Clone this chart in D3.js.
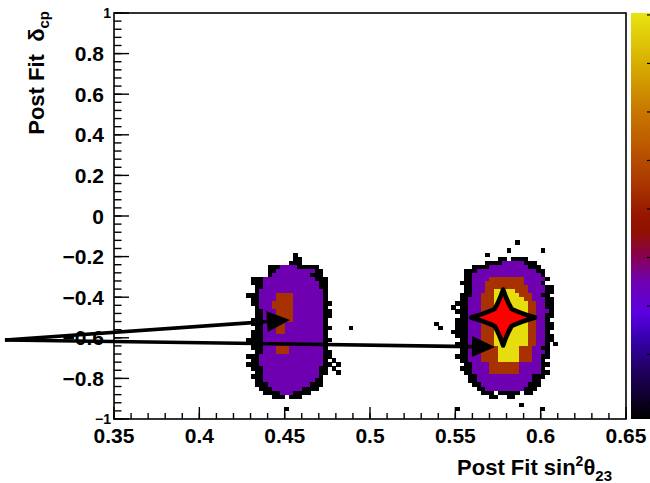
<!DOCTYPE html>
<html>
<head>
<meta charset="utf-8">
<script src="https://cdn.jsdelivr.net/npm/d3@7"></script>
<style>
  html, body { margin: 0; padding: 0; background: #fff; }
  svg { display: block; }
  text { font-family: "Liberation Sans", Arial, Helvetica, sans-serif; font-weight: bold; }
</style>
</head>
<body>
<svg id="chart" width="650" height="483"></svg>
<script>
// ---- axis ranges and ticks ----
const xDomain = [0.35, 0.65];
const yDomain = [-1, 1];
const xTicks = [0.35, 0.40, 0.45, 0.50, 0.55, 0.60, 0.65];
const xTickLabels = ["0.35", "0.4", "0.45", "0.5", "0.55", "0.6", "0.65"];
const yTicks = [-1, -0.8, -0.6, -0.4, -0.2, 0, 0.2, 0.4, 0.6, 0.8, 1];
const yTickLabels = ["\u22121", "\u22120.8", "\u22120.6", "\u22120.4", "\u22120.2", "0", "0.2", "0.4", "0.6", "0.8", "1"];
const xMinorStep = 0.01;
const yMinorStep = 0.04;

// ---- histogram binning ----
const xBinWidth = 0.0025;
const yBinWidth = 0.02;

// bin content per cell code
const cellCounts = { k: 7, p: 35, o: 54, y: 89 };

// z axis (colour palette) range and ticks
const zDomain = [6.7, 90.4];
const zTicks = [10, 20, 30, 40, 50, 60, 70, 80, 90];
const paletteStops = [0.00, 0.12, 0.20, 0.26, 0.34, 0.40, 0.46, 0.50, 0.57, 0.67, 0.76, 0.88, 1.00];
const paletteColors = ["#000000", "#200060", "#3800b0", "#5a00e0", "#7000b0", "#880050", "#901000",
                       "#951500", "#a83300", "#bb5800", "#c87800", "#d8b000", "#e8e410"];

// left solution: rows top to bottom, first column at x = 0.425, first row upper edge at -0.18
const leftX0 = 0.425;
const leftYTop = -0.18;
const leftRows = [
  "............k.............",
  "............kk............",
  "...........kkk............",
  "......kkkppppkkkkk........",
  "......kkpppppppppkk.......",
  "......kpppppppppkkk.......",
  "..kkkppppppppppppkkk......",
  "..kkkpppppppppppppkk......",
  "...kkpppppppppppppkk......",
  "...kpppppppppppppppk......",
  ".kkkppppoooopppppppk......",
  "..kkppppoooopppppppk......",
  "..kkpppooooopppppppkk.....",
  "...kpppooooopppppppk......",
  "...kkpppoooopppppppkk.....",
  "...kkpppoooopppppppkk.....",
  "..kkkpppoooopppppppk......",
  "..kkkpppoopppppppppk......",
  "...kkpppoopppppppppkk....k",
  "..kkkpppoopppppppppk......",
  "..kkkppppppppppppppk......",
  ".kkkkppppppppppppppkk.....",
  "..kkkppppppppppppppk......",
  "..kkkpppoooppppppppk......",
  "...kkpppoooppppppppkk.....",
  ".kkkpppppppppppppppkk.....",
  "..kkpppppppppppppppk.k....",
  ".kkkpppppppppppppppkk.k...",
  "..kkkpppppppppppppkk.k....",
  "...kkpppppppppppppkk..k...",
  "..kkkpppppppppppppk.......",
  "...kkppppppppppppkk.......",
  "...kkkppppppppppkkk.......",
  "....kkkpppppppkkkk........",
  ".....kkkkpppkkkk..........",
  ".......kkk.kkk............",
  "..........................",
  "..........................",
  "..........k..............."
];

// right solution: first column at x = 0.535, first row upper edge at -0.12
const rightX0 = 0.535;
const rightYTop = -0.12;
const rightRows = [
  "....................k.........",
  "..............................",
  "..................k.......k...",
  ".............k................",
  "................kk.kkkk.......",
  ".............kkkkpppppkkk.....",
  "..........kkkkpppppppppkkk....",
  "........kkkppppppppppppppkk...",
  "........kkppppppppppppppppk...",
  "........kkppppoooooooopppppk..",
  ".......kkkpppoooooooooppppk...",
  "........kkpppooooooooooppppkk.",
  "........kkpppooyyyyyoooppppkk.",
  ".......kkkppoooyyyyyyoooppkk..",
  ".......kkpppoooyyyyyyyoopppkk.",
  "......kkkpppoooyyyyyyyyooppkk.",
  ".....k.kkpppoooyyyyyyyyooppkk.",
  "......kkkpppoooyyyyyyyyoopppk.",
  ".......kkpppoooyyyyyyyyooppkk.",
  "......kkkpppoooyyyyyyyyooppk..",
  ".k....kkkpppoooyyyyyyyyooppkk.",
  "..k...kkkpppoooyyyyyyyyooppkk.",
  ".....kkkkpppoooyyyyyyyyooppk..",
  "......kkkpppoooyyyyyyyyooppkk.",
  ".......kkpppoooyyyyyyyyooppkk.",
  "......kkkpppoooyyyyyyyyooppk.k",
  ".......kkpppooooyyyyyoooppkk..",
  ".......kkpppooooyyyyyooopppk..",
  "......kkkpppooooyyyyyoooppkk..",
  ".......kkpppooooyyyyyoooppk...",
  "........kkppppooooooopppppkk..",
  ".......kkkppppooooooopppppk...",
  "........kkppppooooooopppppkk..",
  ".........kkpppppppppppppkkk...",
  ".........kkpppppppppppppkk....",
  "..........kkpppppppppppkkk....",
  "...........kkpppppppppkkk.....",
  "............kkk.kkkkk.kk......",
  "..............kk..kk..........",
  "..............................",
  ".....................k........",
  "......k...................k..."
];

// best-fit point and the two arrows pointing at the solutions
const bestFit = { x: 0.578, y: -0.5 };
const arrows = [
  { from: [0.2861, -0.611], to: [0.4531, -0.512] },
  { from: [0.2861, -0.611], to: [0.5732, -0.645] }
];

const xTitle = "Post Fit sin";
const yTitle = "Post Fit  ";

// ---- layout ----
const svg = d3.select("#chart");
const frame = { left: 114, right: 626, top: 13, bottom: 419 };
const bar = { left: 631, right: 652 };

const x = d3.scaleLinear().domain(xDomain).range([frame.left, frame.right]);
const y = d3.scaleLinear().domain(yDomain).range([frame.bottom, frame.top]);
const z = d3.scaleLinear().domain(zDomain).range([frame.bottom, frame.top]);
const zFrac = d3.scaleLinear().domain(zDomain).range([0, 1]).clamp(true);
const palette = d3.scaleLinear().domain(paletteStops).range(paletteColors).interpolate(d3.interpolateRgb);
const colorOf = c => palette(zFrac(c));

// ---- histogram cells ----
function cellsFrom(rows, x0, yTop) {
  const out = [];
  rows.forEach((row, r) => {
    for (let c = 0; c < row.length; c++) {
      const code = row[c];
      if (code in cellCounts) {
        out.push({ x0: x0 + c * xBinWidth, yHi: yTop - r * yBinWidth, count: cellCounts[code] });
      }
    }
  });
  return out;
}
const cells = cellsFrom(leftRows, leftX0, leftYTop).concat(cellsFrom(rightRows, rightX0, rightYTop));

svg.append("clipPath").attr("id", "frameClip")
  .append("rect").attr("x", frame.left).attr("y", frame.top)
  .attr("width", frame.right - frame.left).attr("height", frame.bottom - frame.top);

svg.append("g").attr("clip-path", "url(#frameClip)")
  .selectAll("rect").data(cells).join("rect")
  .attr("x", d => x(d.x0))
  .attr("y", d => y(d.yHi))
  .attr("width", d => x(d.x0 + xBinWidth) - x(d.x0) + 0.4)
  .attr("height", d => y(d.yHi - yBinWidth) - y(d.yHi) + 0.4)
  .attr("fill", d => colorOf(d.count))
  .attr("shape-rendering", "crispEdges");

// ---- colour bar ----
const grad = svg.append("defs").append("linearGradient").attr("id", "zGrad")
  .attr("x1", 0).attr("y1", 1).attr("x2", 0).attr("y2", 0);
grad.selectAll("stop").data(paletteStops).join("stop")
  .attr("offset", d => d)
  .attr("stop-color", (d, i) => paletteColors[i]);
svg.append("rect").attr("x", bar.left).attr("y", frame.top)
  .attr("width", bar.right - bar.left).attr("height", frame.bottom - frame.top)
  .attr("fill", "url(#zGrad)");
svg.append("g").selectAll("line").data(zTicks).join("line")
  .attr("x1", 647).attr("x2", 652)
  .attr("y1", d => z(d)).attr("y2", d => z(d))
  .attr("stroke", "#000").attr("stroke-width", 1.2);

// ---- frame and ticks ----
svg.append("rect").attr("x", frame.left).attr("y", frame.top)
  .attr("width", frame.right - frame.left).attr("height", frame.bottom - frame.top)
  .attr("fill", "none").attr("stroke", "#000").attr("stroke-width", 1.6);

const xMinor = d3.range(xDomain[0], xDomain[1] + 1e-9, xMinorStep);
const yMinor = d3.range(yDomain[0], yDomain[1] + 1e-9, yMinorStep);
const ticks = svg.append("g").attr("stroke", "#000").attr("stroke-width", 1.4);
ticks.selectAll(".xm").data(xMinor).join("line").attr("class", "xm")
  .attr("x1", d => x(d)).attr("x2", d => x(d))
  .attr("y1", frame.bottom).attr("y2", frame.bottom - 6);
ticks.selectAll(".xM").data(xTicks).join("line").attr("class", "xM")
  .attr("x1", d => x(d)).attr("x2", d => x(d))
  .attr("y1", frame.bottom).attr("y2", frame.bottom - 12);
ticks.selectAll(".ym").data(yMinor).join("line").attr("class", "ym")
  .attr("y1", d => y(d)).attr("y2", d => y(d))
  .attr("x1", frame.left).attr("x2", frame.left + 7.5);
ticks.selectAll(".yM").data(yTicks).join("line").attr("class", "yM")
  .attr("y1", d => y(d)).attr("y2", d => y(d))
  .attr("x1", frame.left).attr("x2", frame.left + 15);

// ---- tick labels ----
svg.append("g").selectAll("text").data(xTicks).join("text")
  .attr("x", d => x(d)).attr("y", 443)
  .attr("text-anchor", "middle").attr("font-size", 21)
  .text((d, i) => xTickLabels[i]);

const isEnd = v => Math.abs(Math.abs(v) - 1) < 1e-9;
svg.append("g").selectAll("text").data(yTicks).join("text")
  .attr("x", d => isEnd(d) ? 111 : 104)
  .attr("y", d => y(d))
  .attr("dy", "0.36em")
  .attr("text-anchor", "end")
  .attr("font-size", d => isEnd(d) ? 14 : 21)
  .text((d, i) => yTickLabels[i]);

// ---- axis titles ----
const xt = svg.append("text").attr("x", 612).attr("y", 475)
  .attr("text-anchor", "end").attr("font-size", 22);
xt.append("tspan").text(xTitle);
xt.append("tspan").attr("font-size", 14).attr("dy", -9).text("2");
xt.append("tspan").attr("font-size", 22).attr("dy", 9).text("\u03b8");
xt.append("tspan").attr("font-size", 15).attr("dy", 6).text("23");

const yt = svg.append("text")
  .attr("transform", "translate(44,11) rotate(-90)")
  .attr("text-anchor", "end").attr("font-size", 22)
  .attr("xml:space", "preserve");
yt.append("tspan").text(yTitle);
yt.append("tspan").text("\u03b4");
yt.append("tspan").attr("font-size", 15).attr("dy", 5).text("cp");

// ---- arrows ----
const ag = svg.append("g");
arrows.forEach(a => {
  const x1 = x(a.from[0]), y1 = y(a.from[1]);
  const x2 = x(a.to[0]), y2 = y(a.to[1]);
  const ang = Math.atan2(y2 - y1, x2 - x1);
  const len = 23, half = 10.5;
  const bx = x2 - len * Math.cos(ang), by = y2 - len * Math.sin(ang);
  ag.append("line").attr("x1", x1).attr("y1", y1).attr("x2", bx).attr("y2", by)
    .attr("stroke", "#000").attr("stroke-width", 3.6);
  const px = -Math.sin(ang), py = Math.cos(ang);
  ag.append("path")
    .attr("d", `M${x2},${y2}L${bx + half * px},${by + half * py}L${bx - half * px},${by - half * py}Z`)
    .attr("fill", "#000");
});

// ---- best-fit marker: four-pointed star with slightly concave sides ----
const sx = x(bestFit.x), sy = y(bestFit.y);
const armW = 32, armH = 28, inner = 8.5, bow = 1.8;
function starSide(ax, ay, bx, by) {
  // quadratic edge from (ax,ay) to (bx,by), bowed toward the star centre
  const mx = (ax + bx) / 2, my = (ay + by) / 2;
  const len = Math.hypot(mx, my);
  return `Q${mx - bow * mx / len},${my - bow * my / len} ${bx},${by} `;
}
const tips = [[0, -armH], [armW, 0], [0, armH], [-armW, 0]];
const inners = [[inner, -inner], [inner, inner], [-inner, inner], [-inner, -inner]];
let starPath = `M${tips[0][0]},${tips[0][1]} `;
for (let k = 0; k < 4; k++) {
  const t = tips[k], m = inners[k], n = tips[(k + 1) % 4];
  starPath += starSide(t[0], t[1], m[0], m[1]) + starSide(m[0], m[1], n[0], n[1]);
}
starPath += "Z";
svg.append("path").attr("d", starPath)
  .attr("transform", `translate(${sx},${sy})`)
  .attr("fill", "#ff0000").attr("stroke", "#000").attr("stroke-width", 4.5)
  .attr("stroke-linejoin", "round");
</script>
</body>
</html>
